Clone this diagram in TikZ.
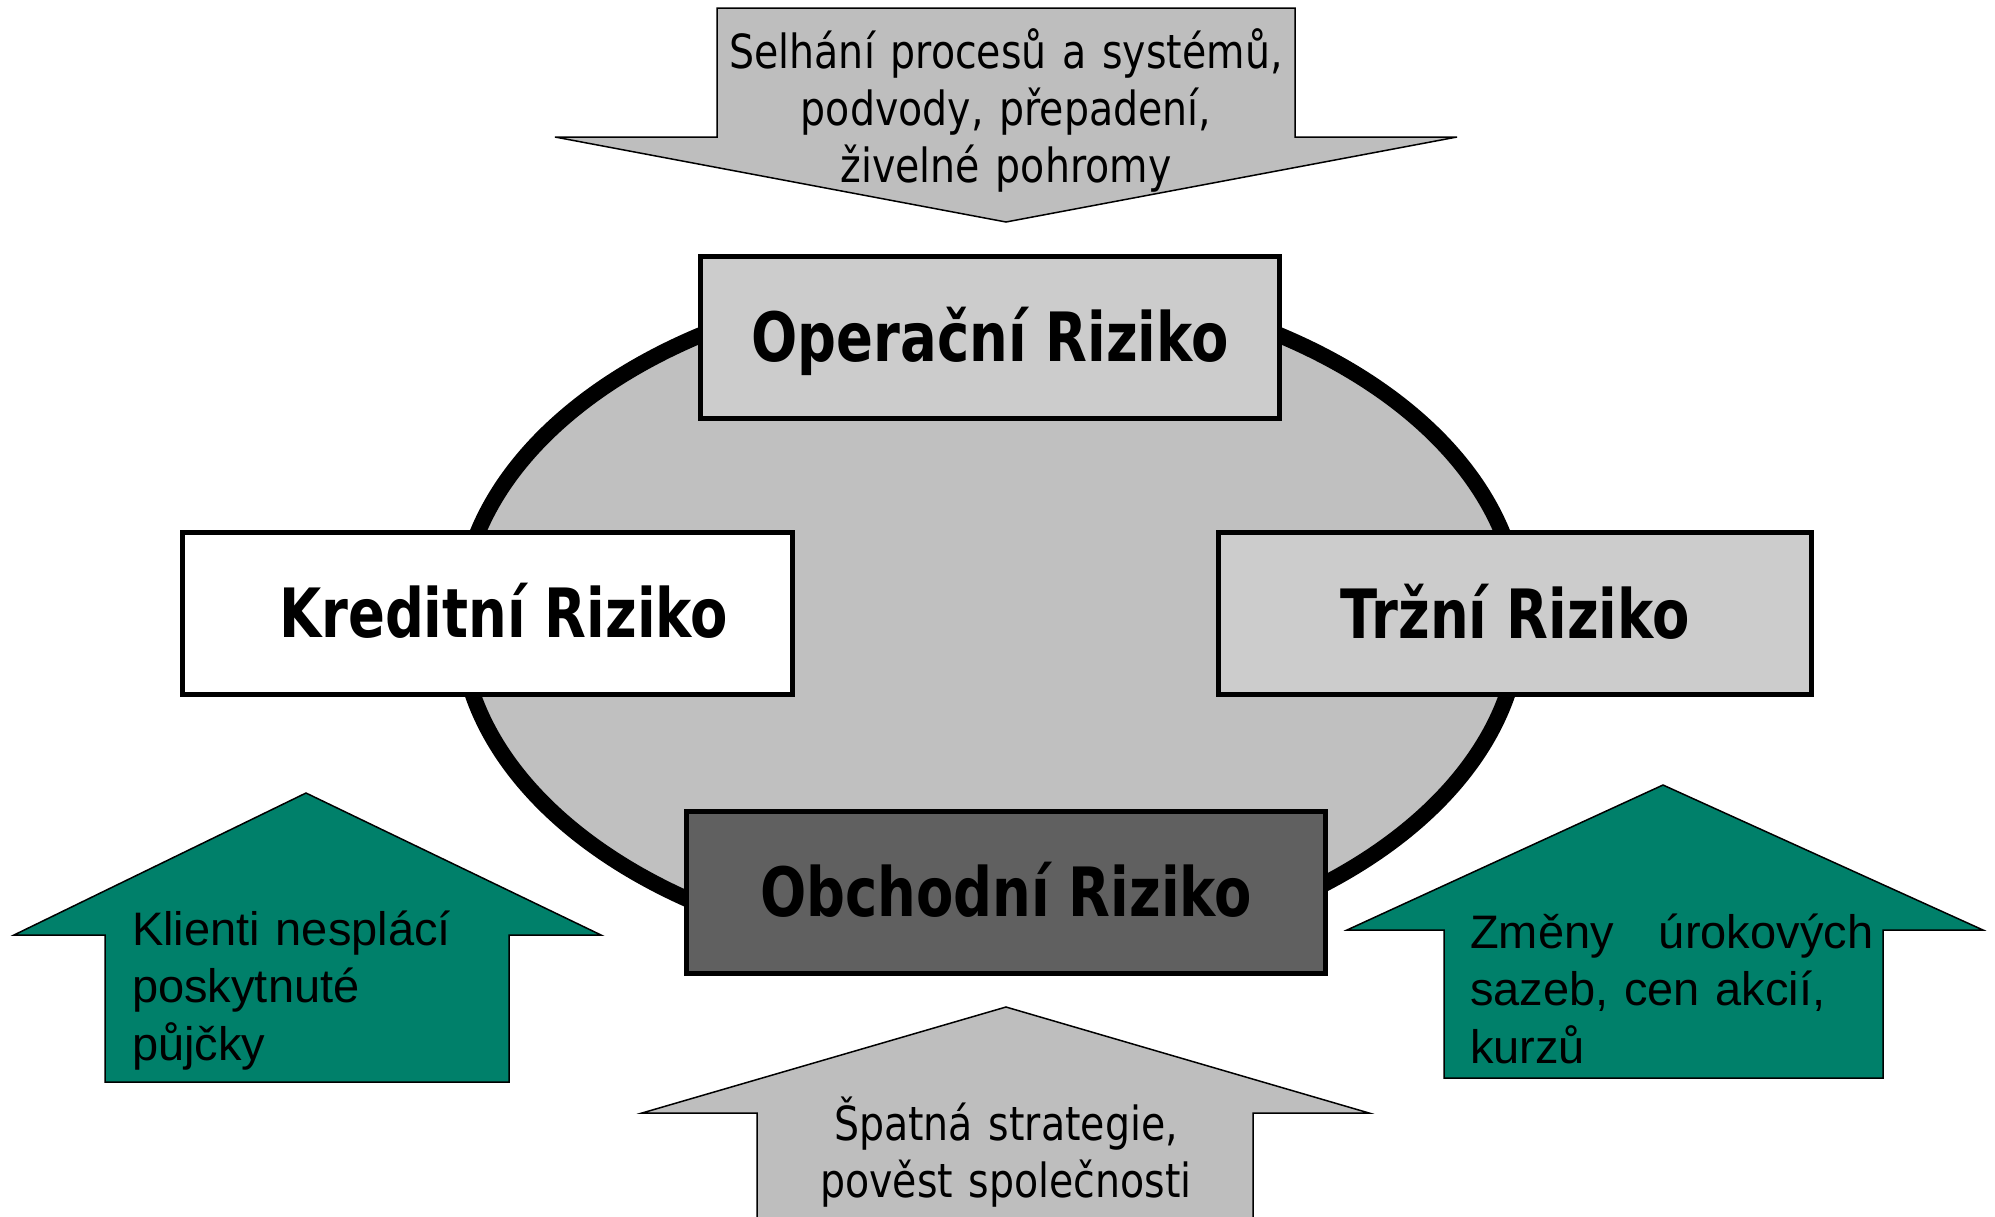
\documentclass[tikz,border=0pt]{standalone}
\usepackage{fontspec}
\setmainfont{Liberation Sans}
\newfontfamily\narrowfont[FakeStretch=0.84]{DejaVu Sans}
\newfontfamily\boxfont[FakeStretch=0.8]{DejaVu Sans}
\usepackage{xcolor}
\definecolor{boxgray}{RGB}{204,204,204}
\definecolor{ovalgray}{RGB}{192,192,192}
\definecolor{darkbox}{RGB}{96,96,96}
\definecolor{causegray}{RGB}{190,190,190}
\definecolor{riskgreen}{RGB}{0,128,106}
\usepackage{tikz}
\usetikzlibrary{positioning}

\begin{document}
\begin{tikzpicture}[x=1pt,y=-1pt,
  riskbox/.style={rectangle,draw,line width=5pt,minimum height=162pt,inner sep=0pt,text height=49.6pt,text depth=0pt,font=\boxfont\bfseries\fontsize{68}{80}\selectfont},
  causeshape/.style={draw,line width=1.5pt,line join=miter},
  causetext/.style={inner sep=0pt,align=center,font=\narrowfont\fontsize{47}{57}\selectfont},
  greentext/.style={inner sep=0pt,align=left,font=\fontsize{47}{57.5}\selectfont}]
\useasboundingbox (0,0) rectangle (1995,1216);
\clip (0,0) rectangle (1995,1216);
% central oval
\draw[line width=16pt,fill=ovalgray] (990,620) ellipse [x radius=530,y radius=340];
% the four risks
\node[riskbox,fill=boxgray,minimum width=579pt] (oper) at (990,337) {Operační Riziko};
\node[riskbox,fill=white,minimum width=610pt] (kred) at (487.5,613) {\hspace*{32pt}Kreditní Riziko};
\node[riskbox,fill=boxgray,minimum width=593pt] (trzni) at (1515,613.5) {Tržní Riziko};
\node[riskbox,fill=darkbox,minimum width=639pt] (obch) at (1006,892) {Obchodní Riziko};
% causes
\draw[causeshape,fill=causegray] (717,8) -- (1295,8) -- (1295,137) -- (1457,137) -- (1006,222) -- (555,137) -- (717,137) -- cycle;
\node[causetext,anchor=base,text width=600pt] (operc) at (1006,68) {Selhání procesů a systémů,\\podvody, přepadení,\\živelné pohromy};
\draw[causeshape,fill=riskgreen] (306,793) -- (601,935) -- (509,935) -- (509,1082) -- (105,1082) -- (105,935) -- (14,935) -- cycle;
\node[greentext,anchor=base west,text width=370pt] (kredc) at (132,945) {Klienti nesplácí\\poskytnuté\\půjčky};
\draw[causeshape,fill=riskgreen] (1663,785) -- (1983,930) -- (1883,930) -- (1883,1078) -- (1444,1078) -- (1444,930) -- (1347,930) -- cycle;
\node[greentext,anchor=base west,text width=403pt] (trznic) at (1470,948) {Změny\hfill úrokových\\sazeb, cen akcií,\\kurzů};
\draw[causeshape,fill=causegray] (1006,1007) -- (1369,1113) -- (1253,1113) -- (1253,1230) -- (757,1230) -- (757,1113) -- (642,1113) -- cycle;
\node[causetext,anchor=base,text width=460pt] (obchc) at (1006,1140) {Špatná strategie,\\pověst společnosti};
\end{tikzpicture}
\end{document}
